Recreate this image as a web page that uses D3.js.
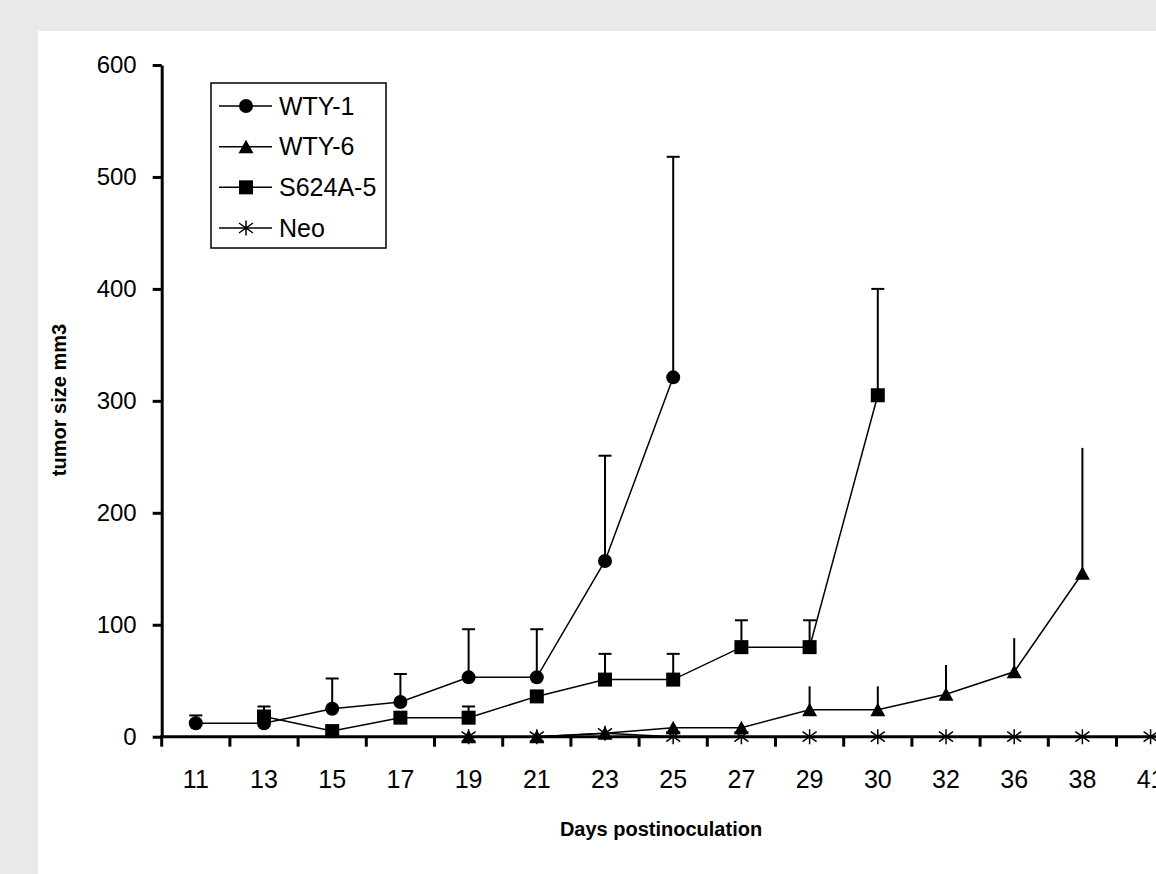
<!DOCTYPE html>
<html>
<head>
<meta charset="utf-8">
<script src="https://cdn.jsdelivr.net/npm/d3@7"></script>
<style>
  html, body { margin: 0; padding: 0; background: #e9e9e9; }
  svg { display: block; }
</style>
</head>
<body>
<svg id="chart"></svg>
<script>
// Days on the x axis (categorical, Excel-style)
const days = ["11", "13", "15", "17", "19", "21", "23", "25", "27", "29", "30", "32", "36", "38", "41"];

// mean tumor size per day (null = no measurement)
const wty1 = [12, 12, 25, 31, 53, 53, 157, 321, null, null, null, null, null, null, null];
const wty6 = [null, null, null, null, 0, 0, 3, 8, 8, 24, 24, 38, 58, 146, null];
const s624a5 = [null, 18, 5, 17, 17, 36, 51, 51, 80, 80, 305, null, null, null, null];
const neo = [null, null, null, null, 0, 0, 3, 0, 0, 0, 0, 0, 0, 0, 0];

// top of the error bar (mean + SD), only drawn upwards
const wty1Err = [19, null, 52, 56, 96, 96, 251, 518, null, null, null, null, null, null, null];
const wty6Err = [null, null, null, null, null, null, null, null, null, 45, 45, 64, 88, 258, null];
const s624a5Err = [null, 27, null, null, 27, null, 74, 74, 104, 104, 400, null, null, null, null];

const yTicks = [0, 100, 200, 300, 400, 500, 600];

const width = 1156;
const height = 874;

const series = [
  { name: "WTY-1", values: wty1, err: wty1Err, marker: "circle", cap: true },
  { name: "WTY-6", values: wty6, err: wty6Err, marker: "triangle", cap: false },
  { name: "S624A-5", values: s624a5, err: s624a5Err, marker: "square", cap: true },
  { name: "Neo", values: neo, err: null, marker: "star", cap: false },
];

const x0 = 161.7;
const band = 68.2;
const x = d3.scaleBand(days, [x0, x0 + band * days.length]);
const y = d3.scaleLinear([0, 600], [736.7, 65]);

const svg = d3.select("#chart")
  .attr("width", width)
  .attr("height", height)
  .attr("viewBox", [0, 0, width, height]);

// white plot panel over the grey page
svg.append("rect")
  .attr("x", 38).attr("y", 31)
  .attr("width", width - 38).attr("height", height - 31)
  .attr("fill", "#fff");

const font = "'Liberation Sans', Arial, sans-serif";

// draw a marker centred on 0,0
function drawMarker(g, type) {
  if (type === "circle") {
    g.append("circle").attr("r", 7).attr("fill", "#000");
  } else if (type === "triangle") {
    g.append("path").attr("d", "M0,-7L7.5,6.5L-7.5,6.5Z").attr("fill", "#000");
  } else if (type === "square") {
    g.append("rect").attr("x", -7).attr("y", -7).attr("width", 14).attr("height", 14).attr("fill", "#000");
  } else {
    g.append("path")
      .attr("d", "M0,-7.5V7.5M-7,-5L7,5M-7,5L7,-5")
      .attr("stroke", "#000").attr("stroke-width", 1.5).attr("fill", "none");
  }
}

const cx = i => x(days[i]) + x.bandwidth() / 2;

const plot = svg.append("g");

// error bars first so the markers sit on top
series.forEach(s => {
  if (!s.err) return;
  s.err.forEach((e, i) => {
    if (e == null || s.values[i] == null) return;
    plot.append("line")
      .attr("x1", cx(i)).attr("x2", cx(i))
      .attr("y1", y(s.values[i])).attr("y2", y(e))
      .attr("stroke", "#000").attr("stroke-width", 2);
    if (s.cap) {
      plot.append("line")
        .attr("x1", cx(i) - 6.5).attr("x2", cx(i) + 6.5)
        .attr("y1", y(e)).attr("y2", y(e))
        .attr("stroke", "#000").attr("stroke-width", 2);
    }
  });
});

const line = d3.line()
  .defined(d => d.v != null)
  .x(d => cx(d.i))
  .y(d => y(d.v));

series.forEach(s => {
  const pts = s.values.map((v, i) => ({ v, i }));
  plot.append("path")
    .attr("fill", "none")
    .attr("stroke", "#000")
    .attr("stroke-width", 1.5)
    .attr("d", line(pts));
});

// axes
const axisColor = "#000";

// y axis
svg.append("g")
  .attr("transform", `translate(${x0},0)`)
  .call(d3.axisLeft(y).tickValues(yTicks).tickSize(9).tickSizeOuter(0).tickPadding(16))
  .call(g => g.selectAll(".domain").attr("stroke-width", 3).attr("stroke", axisColor))
  .call(g => g.selectAll(".tick line").attr("stroke-width", 3).attr("stroke", axisColor))
  .call(g => g.selectAll(".tick text")
    .attr("font-family", font).attr("font-size", 24).attr("fill", "#000"));

// x axis labels at band centres
svg.append("g")
  .attr("transform", `translate(0,${y(0)})`)
  .call(d3.axisBottom(x).tickSize(0))
  .call(g => g.select(".domain").remove())
  .call(g => g.selectAll(".tick text")
    .attr("y", 51).attr("dy", 0)
    .attr("font-family", font).attr("font-size", 25).attr("fill", "#000"));

// x axis line and tick marks between categories
svg.append("line")
  .attr("x1", x0 - 1.5).attr("x2", width)
  .attr("y1", y(0)).attr("y2", y(0))
  .attr("stroke", axisColor).attr("stroke-width", 3);

svg.append("g")
  .selectAll("line")
  .data(days)
  .join("line")
  .attr("x1", d => x(d)).attr("x2", d => x(d))
  .attr("y1", y(0)).attr("y2", y(0) + 10)
  .attr("stroke", axisColor).attr("stroke-width", 3);

// markers
series.forEach(s => {
  s.values.forEach((v, i) => {
    if (v == null) return;
    const g = plot.append("g").attr("transform", `translate(${cx(i)},${y(v)})`);
    drawMarker(g, s.marker);
  });
});
svg.node().appendChild(plot.node());

// axis titles
svg.append("text")
  .attr("x", 661).attr("y", 836)
  .attr("text-anchor", "middle")
  .attr("font-family", font).attr("font-weight", "bold").attr("font-size", 20)
  .text("Days postinoculation");

svg.append("text")
  .attr("transform", `translate(66,400) rotate(-90)`)
  .attr("text-anchor", "middle")
  .attr("font-family", font).attr("font-weight", "bold").attr("font-size", 20)
  .text("tumor size mm3");

// legend
const legend = svg.append("g");
legend.append("rect")
  .attr("x", 211).attr("y", 83).attr("width", 175).attr("height", 165)
  .attr("fill", "#fff").attr("stroke", "#000").attr("stroke-width", 1.5);

const legendY = d3.scalePoint(series.map(s => s.name), [106, 228]);
series.forEach(s => {
  const g = legend.append("g").attr("transform", `translate(0,${legendY(s.name)})`);
  g.append("line").attr("x1", 219).attr("x2", 272).attr("stroke", "#000").attr("stroke-width", 1.5);
  drawMarker(g.append("g").attr("transform", "translate(246,0)"), s.marker);
  g.append("text")
    .attr("x", 279).attr("dy", "0.35em")
    .attr("font-family", font).attr("font-size", 25)
    .text(s.name);
});
</script>
</body>
</html>
